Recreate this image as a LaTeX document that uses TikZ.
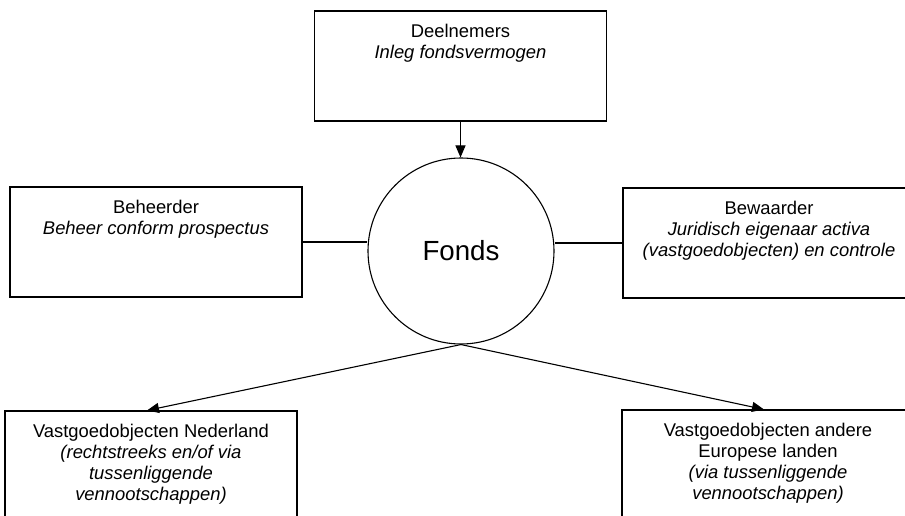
\documentclass[tikz,border=0pt]{standalone}
\usepackage{fontspec}
\setmainfont{Liberation Sans}
\usetikzlibrary{arrows.meta}
\tikzset{
  boxnode/.style={draw, line width=1.1pt, minimum width=292pt, minimum height=110pt, inner sep=0pt},
  txtnode/.style={font=\fontsize{18.4}{21.2}\selectfont, align=center, anchor=north, inner sep=0pt},
  conn/.style={line width=1.1pt},
  arr/.style={line width=1.1pt, -{Triangle[length=12pt,width=10pt]}},
}
\begin{document}
\begin{tikzpicture}[x=1pt,y=-1pt]
\clip (0,0) rectangle (905,516);
\fill[white] (0,0) rectangle (905,516);
\node[boxnode] (tb) at (460.5,66) {};
\node[boxnode] (lb) at (156,242) {};
\node[boxnode] (rb) at (769,243) {};
\node[boxnode] (bl) at (151,466) {};
\node[boxnode] (br) at (768,465) {};
\node[draw, circle, line width=1.1pt, minimum size=186pt, inner sep=0pt, font=\fontsize{27.7}{32}\selectfont] (fonds) at (461,251) {Fonds};

\node[txtnode] (tbt) at ([yshift=-13.3pt]tb.north) {Deelnemers\\\textit{Inleg fondsvermogen}};
\node[txtnode] (lbt) at ([yshift=-13.3pt]lb.north) {Beheerder\\\textit{Beheer conform prospectus}};
\node[txtnode] (rbt) at ([yshift=-13.3pt]rb.north) {Bewaarder\\\textit{Juridisch eigenaar activa}\\\textit{(vastgoedobjecten) en controle}};
\node[txtnode] (blt) at ([yshift=-13.3pt]bl.north) {Vastgoedobjecten Nederland\\\textit{(rechtstreeks en/of via}\\\textit{tussenliggende}\\\textit{vennootschappen)}};
\node[txtnode] (brt) at ([yshift=-13.3pt]br.north) {Vastgoedobjecten andere\\Europese landen\\\textit{(via tussenliggende}\\\textit{vennootschappen)}};

\draw[arr] (tb.south) -- (tb.south |- fonds.north);
\draw[conn] (lb.east) -- (lb.east -| fonds.west);
\draw[conn] (rb.west) -- (rb.west -| fonds.east);
\draw[arr] (fonds.south) -- ([xshift=-4pt]bl.north);
\draw[arr] (fonds.south) -- ([xshift=-4pt]br.north);
\end{tikzpicture}
\end{document}
